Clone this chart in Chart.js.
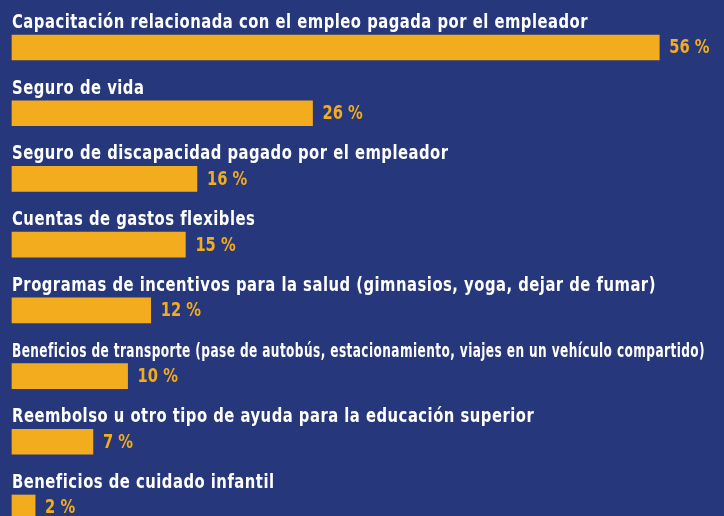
<!DOCTYPE html>
<html>
<head>
<meta charset="utf-8">
<script src="https://cdn.jsdelivr.net/npm/chart.js@4/dist/chart.umd.min.js"></script>
<style>
  html, body { margin: 0; padding: 0; background: #26387b; overflow: hidden; }
  canvas { display: block; }
</style>
</head>
<body>
<canvas id="Chart01" width="724" height="516"></canvas>
<script>
/* Data */
const categories = [
  'Capacitación relacionada con el empleo pagada por el empleador',
  'Seguro de vida',
  'Seguro de discapacidad pagado por el empleador',
  'Cuentas de gastos flexibles',
  'Programas de incentivos para la salud (gimnasios, yoga, dejar de fumar)',
  'Beneficios de transporte (pase de autobús, estacionamiento, viajes en un vehículo compartido)',
  'Reembolso u otro tipo de ayuda para la educación superior',
  'Beneficios de cuidado infantil'
];
const percentages = [56, 26, 16, 15, 12, 10, 7, 2];

const bgColor = '#26387b';
const barColor = '#f4ac1f';
const fontFamily = '"Liberation Sans Narrow", "DejaVu Sans Condensed", "Liberation Sans", sans-serif';

/* Labels above bars and values after bars */
const labelPlugin = {
  id: 'labelPlugin',
  beforeDraw(chart) {
    const c = chart.ctx;
    c.save();
    c.fillStyle = bgColor;
    c.fillRect(0, 0, chart.width, chart.height);
    c.restore();
  },
  afterDatasetsDraw(chart) {
    const c = chart.ctx;
    const meta = chart.getDatasetMeta(0);
    c.save();
    c.font = 'bold 20px ' + fontFamily;
    c.letterSpacing = '0.6px';
    // squeeze text so the first label spans like the original
    const sx = Math.min(1, 576 / c.measureText(categories[0]).width);
    meta.data.forEach((bar, i) => {
      const props = bar.getProps(['x', 'y', 'base', 'height']);
      const left = props.base;
      const top = props.y - props.height / 2;
      // category label
      c.font = 'bold 20px ' + fontFamily;
      c.letterSpacing = '0.6px';
      let w = c.measureText(categories[i]).width * sx;
      let s = sx;
      const room = chart.width - left - 19;
      if (w > room) s = sx * room / w;
      c.save();
      c.translate(left, top - 7);
      c.scale(s, 1);
      c.fillStyle = '#ffffff';
      c.textBaseline = 'alphabetic';
      c.fillText(categories[i], 0, 0);
      c.restore();
      // value label
      c.save();
      c.font = 'bold 19px ' + fontFamily;
      c.letterSpacing = '0px';
      c.translate(props.x + 10, props.y + 1);
      c.scale(0.86, 1);
      c.fillStyle = barColor;
      c.textBaseline = 'middle';
      c.fillText(percentages[i] + ' %', 0, 0);
      c.restore();
    });
    c.restore();
  }
};

const config01 = {
  type: 'bar',
  data: {
    labels: categories,
    datasets: [{
      data: percentages,
      backgroundColor: barColor,
      borderWidth: 0,
      barThickness: 25,
      clip: false
    }]
  },
  options: {
    indexAxis: 'y',
    responsive: false,
    animation: false,
    layout: { padding: { left: 12, right: 0, top: 47.5, bottom: 8.5 } },
    plugins: { legend: { display: false }, tooltip: { enabled: false } },
    scales: {
      x: { display: false, min: 0, max: 61.6 },
      y: { display: false, offset: false }
    }
  },
  plugins: [labelPlugin]
};

const ctxch01 = document.getElementById('Chart01');
new Chart(ctxch01, config01);
</script>
</body>
</html>
